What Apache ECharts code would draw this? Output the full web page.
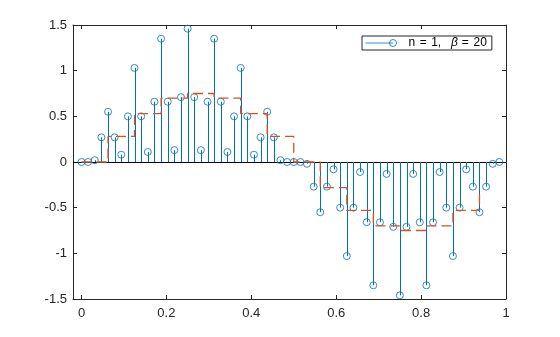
<!DOCTYPE html>
<html>
<head>
<meta charset="utf-8">
<script src="https://cdn.jsdelivr.net/npm/echarts@6/dist/echarts.min.js"></script>
<style>
  html, body { margin: 0; padding: 0; background: #fff; }
  #chart { width: 560px; height: 337px; }
</style>
</head>
<body>
<div id="chart"></div>
<script>
// Sample positions (n / 64) of the stem sequence
const sampleX = [
  0, 0.015625, 0.03125, 0.046875, 0.0625, 0.078125, 0.09375, 0.109375,
  0.125, 0.140625, 0.15625, 0.171875, 0.1875, 0.203125, 0.21875, 0.234375,
  0.25, 0.265625, 0.28125, 0.296875, 0.3125, 0.328125, 0.34375, 0.359375,
  0.375, 0.390625, 0.40625, 0.421875, 0.4375, 0.453125, 0.46875, 0.484375,
  0.5, 0.515625, 0.53125, 0.546875, 0.5625, 0.578125, 0.59375, 0.609375,
  0.625, 0.640625, 0.65625, 0.671875, 0.6875, 0.703125, 0.71875, 0.734375,
  0.75, 0.765625, 0.78125, 0.796875, 0.8125, 0.828125, 0.84375, 0.859375,
  0.875, 0.890625, 0.90625, 0.921875, 0.9375, 0.953125, 0.96875, 0.984375
];
// Stem heights
const sampleY = [
  0, 0, 0.02, 0.27, 0.55, 0.27, 0.08, 0.5,
  1.03, 0.5, 0.11, 0.66, 1.35, 0.66, 0.13, 0.71,
  1.46, 0.71, 0.13, 0.66, 1.35, 0.66, 0.11, 0.5,
  1.03, 0.5, 0.08, 0.27, 0.55, 0.27, 0.02, 0,
  0, 0, -0.02, -0.27, -0.55, -0.27, -0.08, -0.5,
  -1.03, -0.5, -0.11, -0.66, -1.35, -0.66, -0.13, -0.71,
  -1.46, -0.71, -0.13, -0.66, -1.35, -0.66, -0.11, -0.5,
  -1.03, -0.5, -0.08, -0.27, -0.55, -0.27, -0.02, 0
];
// Staircase (held values)
const stairX = [0, 0.0625, 0.125, 0.1875, 0.25, 0.3125, 0.375, 0.4375,
                0.5, 0.5625, 0.625, 0.6875, 0.75, 0.8125, 0.875, 0.9375];
const stairY = [0, 0.28, 0.53, 0.7, 0.75, 0.7, 0.53, 0.28,
                0, -0.28, -0.53, -0.7, -0.75, -0.7, -0.53, -0.28];
const xTicks = [0, 0.2, 0.4, 0.6, 0.8, 1];
const legendName = 'n = 1,  β = 20';

const FONT = "'Liberation Sans', Arial, Helvetica, sans-serif";
const AXIS = '#262626';
const BLUE = '#0072BD';
const ORANGE = '#D95319';

const stemData = sampleX.map((x, i) => [x, sampleY[i]]);
const stairData = stairX.map((x, i) => [x, stairY[i]]);

const chart = echarts.init(document.getElementById('chart'), null, { renderer: 'canvas' });

const xCommon = {
  type: 'value', min: -0.02, max: 1,
  splitLine: { show: false },
  axisLine: { show: true, onZero: false, lineStyle: { color: AXIS, width: 1 } },
  axisTick: { show: true, inside: true, length: 4, customValues: xTicks, lineStyle: { color: AXIS } }
};
const yCommon = {
  type: 'value', min: -1.5, max: 1.5, interval: 0.5,
  splitLine: { show: false },
  axisLine: { show: true, onZero: false, lineStyle: { color: AXIS, width: 1 } },
  axisTick: { show: true, inside: true, length: 4, lineStyle: { color: AXIS } }
};

// legend text pieces, laid out in fixed-width boxes
const lt = { color: '#000', fontSize: 12, lineHeight: 12, fontFamily: FONT };
const legendRich = {
  n:  Object.assign({}, lt, { width: 11.3 }),
  e1: Object.assign({}, lt, { width: 11.4 }),
  c:  Object.assign({}, lt, { width: 19.8 }),
  b:  Object.assign({}, lt, { width: 10.8, fontStyle: 'italic' }),
  e2: Object.assign({}, lt, { width: 11.7 }),
  v:  Object.assign({}, lt)
};

chart.setOption({
  animation: false,
  backgroundColor: '#fff',
  textStyle: { fontFamily: FONT },
  grid: { left: 73, right: 54, top: 25, bottom: 38, containLabel: false },
  xAxis: [
    Object.assign({}, xCommon, {
      position: 'bottom',
      axisLabel: { show: true, customValues: xTicks, margin: 8, color: AXIS, fontSize: 13, fontFamily: FONT,
        formatter: v => String(v) }
    }),
    Object.assign({}, xCommon, { position: 'top', axisLabel: { show: false } })
  ],
  yAxis: [
    Object.assign({}, yCommon, {
      position: 'left',
      axisLabel: { show: true, margin: 6, color: AXIS, fontSize: 13, fontFamily: FONT,
        formatter: v => String(v) }
    }),
    Object.assign({}, yCommon, { position: 'right', axisLabel: { show: false } })
  ],
  legend: {
    data: [legendName],
    left: 362, top: 36,
    orient: 'horizontal',
    padding: [1, 5, 1, 3],
    backgroundColor: '#fff',
    borderColor: AXIS, borderWidth: 1, borderRadius: 0,
    itemWidth: 31, itemHeight: 7,
    icon: 'path://M0,3.5H27.5M27.5,3.5m-3.5,0a3.5,3.5 0 1,0 7,0a3.5,3.5 0 1,0 -7,0',
    itemStyle: { color: 'transparent', borderColor: BLUE, borderWidth: 1 },
    formatter: () => '{n|n}{e1|=}{c|1,}{b|β}{e2|=}{v|20}',
    textStyle: {
      color: '#000', fontSize: 12, lineHeight: 12, fontFamily: FONT,
      rich: legendRich,
      padding: [0, 0, 0, 7]
    }
  },
  series: [
    {
      name: 'stems',
      type: 'custom',
      xAxisIndex: 0, yAxisIndex: 0,
      data: stemData,
      z: 2,
      renderItem: (params, api) => {
        const x = api.value(0), y = api.value(1);
        const p0 = api.coord([x, 0]);
        const p1 = api.coord([x, y]);
        const px = Math.round(p0[0]) + 0.5;
        return {
          type: 'line',
          shape: { x1: px, y1: p0[1], x2: px, y2: p1[1] },
          style: { stroke: BLUE, lineWidth: 1 }
        };
      },
      markLine: {
        silent: true, symbol: 'none',
        label: { show: false },
        lineStyle: { color: '#000', type: 'solid', width: 1 },
        data: [{ yAxis: 0 }],
        z: 1
      }
    },
    {
      name: legendName,
      type: 'scatter',
      xAxisIndex: 0, yAxisIndex: 0,
      data: stemData,
      symbol: 'circle',
      symbolSize: 7,
      itemStyle: { color: 'transparent', borderColor: BLUE, borderWidth: 1 },
      z: 3
    },
    {
      name: 'stairs',
      type: 'line',
      xAxisIndex: 0, yAxisIndex: 0,
      data: stairData,
      step: 'end',
      showSymbol: false,
      lineStyle: { color: ORANGE, width: 1.3, type: [10, 5] },
      z: 4
    }
  ]
});
</script>
</body>
</html>
